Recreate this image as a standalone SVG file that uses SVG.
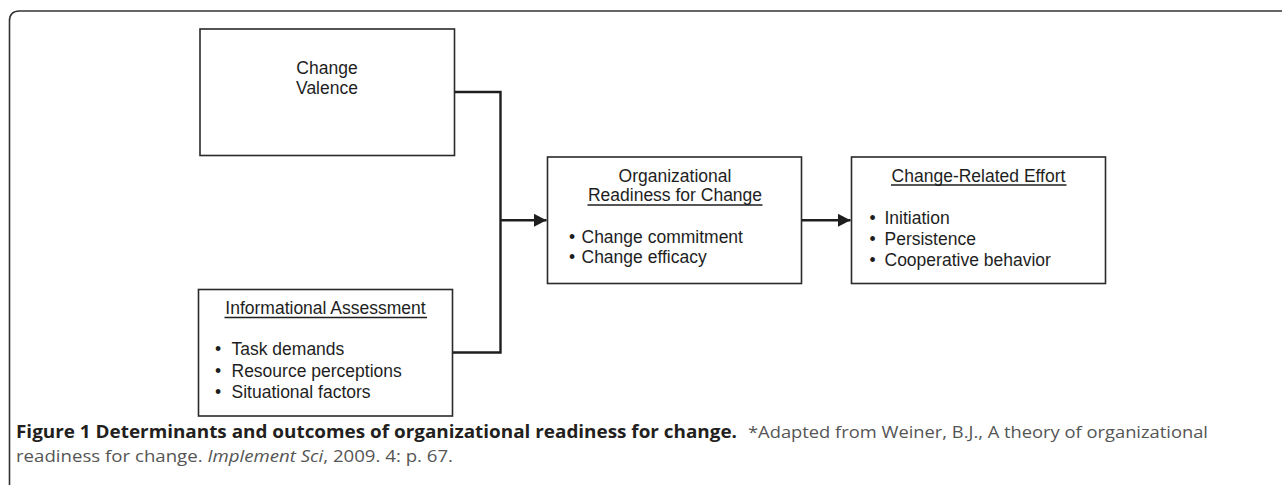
<svg xmlns="http://www.w3.org/2000/svg" width="1282" height="485" viewBox="0 0 1282 485">
<defs>
<style>
.box{fill:#fff;stroke:#2a2a2a;stroke-width:1.6}
.lbl{font-family:"Liberation Sans",Arial,sans-serif;font-size:17.5px;fill:#1e1e1e}
.mid{text-anchor:middle}
.ul{stroke:#1e1e1e;stroke-width:1.4}
.conn{fill:none;stroke:#1e1e1e;stroke-width:2.4}
.cap{font-family:"Open Sans","Liberation Sans",sans-serif;font-size:17px}
.capb{font-weight:bold;fill:#231f20}
.capr{fill:#555}
</style>
<marker id="arr" markerUnits="userSpaceOnUse" markerWidth="13" markerHeight="13" refX="12.5" refY="6.5" orient="auto">
<path d="M0,0 L12.5,6.5 L0,13 z" fill="#1e1e1e"/>
</marker>
</defs>
<rect width="1282" height="485" fill="#fff"/>
<path d="M9.5,485 V21 Q9.5,11 19.5,11 H1282" fill="none" stroke="#333" stroke-width="1.6"/>

<g id="connectors">
<polyline class="conn" points="454.5,92 500.5,92 500.5,352.5 452.5,352.5"/>
<line class="conn" x1="500.5" y1="220.3" x2="546.5" y2="220.3" marker-end="url(#arr)"/>
<line class="conn" x1="801.5" y1="220.3" x2="850.5" y2="220.3" marker-end="url(#arr)"/>
</g>

<g id="change-valence">
<rect class="box" x="200" y="29" width="254.5" height="126.5"/>
<text class="lbl mid" x="327" y="74">Change</text>
<text class="lbl mid" x="327" y="94">Valence</text>
</g>

<g id="informational-assessment">
<rect class="box" x="198.5" y="289.5" width="254" height="126.5"/>
<text class="lbl mid" x="325.5" y="313.5">Informational Assessment</text>
<line class="ul" x1="224.5" y1="317.5" x2="427" y2="317.5"/>
<text class="lbl" x="215" y="355">•</text>
<text class="lbl" x="231.5" y="355">Task demands</text>
<text class="lbl" x="215" y="376.5">•</text>
<text class="lbl" x="231.5" y="376.5">Resource perceptions</text>
<text class="lbl" x="215" y="398">•</text>
<text class="lbl" x="231.5" y="398">Situational factors</text>
</g>

<g id="organizational-readiness">
<rect class="box" x="547.5" y="157" width="254" height="126.5"/>
<text class="lbl mid" x="675" y="182">Organizational</text>
<text class="lbl mid" x="675" y="201">Readiness for Change</text>
<line class="ul" x1="587.5" y1="205" x2="762.5" y2="205"/>
<text class="lbl" x="569" y="243">•</text>
<text class="lbl" x="581.5" y="243">Change commitment</text>
<text class="lbl" x="569" y="263">•</text>
<text class="lbl" x="581.5" y="263">Change efficacy</text>
</g>

<g id="change-related-effort">
<rect class="box" x="851.5" y="157" width="254" height="126.5"/>
<text class="lbl mid" x="978.5" y="181.5">Change-Related Effort</text>
<line class="ul" x1="891" y1="185" x2="1066.5" y2="185"/>
<text class="lbl" x="869.5" y="224">•</text>
<text class="lbl" x="884.5" y="224">Initiation</text>
<text class="lbl" x="869.5" y="245">•</text>
<text class="lbl" x="884.5" y="245">Persistence</text>
<text class="lbl" x="869.5" y="266">•</text>
<text class="lbl" x="884.5" y="266">Cooperative behavior</text>
</g>

<g id="caption">
<text class="cap capb" x="16" y="438" textLength="721" lengthAdjust="spacingAndGlyphs">Figure 1 Determinants and outcomes of organizational readiness for change.</text>
<text class="cap capr" x="748" y="438" textLength="460" lengthAdjust="spacingAndGlyphs">*Adapted from Weiner, B.J., A theory of organizational</text>
<text class="cap capr" x="16" y="462" textLength="437" lengthAdjust="spacingAndGlyphs">readiness for change. <tspan font-style="italic">Implement Sci</tspan>, 2009. 4: p. 67.</text>
</g>
</svg>
